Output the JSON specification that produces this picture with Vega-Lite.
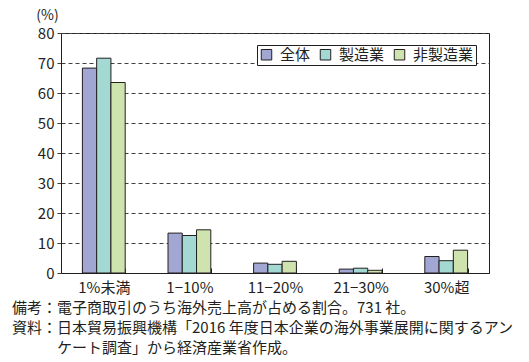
{
  "$schema": "https://vega.github.io/schema/vega-lite/v6.json",
  "autosize": "none",
  "width": 428,
  "height": 240,
  "padding": {"left": 61, "top": 33, "right": 40, "bottom": 89},
  "background": "#ffffff",
  "config": {
    "font": "Noto Sans CJK JP",
    "view": {"stroke": "#231f20", "strokeWidth": 1},
    "axis": {"labelFont": "Noto Sans CJK JP", "labelColor": "#231f20", "titleFont": "Noto Sans CJK JP"}
  },
  "title": {
    "text": ["備考：電子商取引のうち海外売上高が占める割合。731 社。", "資料：日本貿易振興機構「2016 年度日本企業の海外事業展開に関するアン", "\u200b\u3000\u3000\u3000ケート調査」から経済産業省作成。"],
    "orient": "bottom",
    "anchor": "start",
    "frame": "group",
    "dx": -49,
    "offset": 6,
    "fontSize": 15,
    "fontWeight": "normal",
    "color": "#231f20",
    "lineHeight": 20,
    "font": "Noto Sans CJK JP"
  },
  "data": {
    "values": [
      {"cat": "1%未満", "series": "全体", "value": 68.3},
      {"cat": "1%未満", "series": "製造業", "value": 71.6},
      {"cat": "1%未満", "series": "非製造業", "value": 63.5},
      {"cat": "1−10%", "series": "全体", "value": 13.3},
      {"cat": "1−10%", "series": "製造業", "value": 12.5},
      {"cat": "1−10%", "series": "非製造業", "value": 14.4},
      {"cat": "11−20%", "series": "全体", "value": 3.3},
      {"cat": "11−20%", "series": "製造業", "value": 2.9},
      {"cat": "11−20%", "series": "非製造業", "value": 3.9},
      {"cat": "21−30%", "series": "全体", "value": 1.3},
      {"cat": "21−30%", "series": "製造業", "value": 1.6},
      {"cat": "21−30%", "series": "非製造業", "value": 0.9},
      {"cat": "30%超", "series": "全体", "value": 5.5},
      {"cat": "30%超", "series": "製造業", "value": 4.1},
      {"cat": "30%超", "series": "非製造業", "value": 7.6}
    ]
  },
  "mark": {"type": "bar", "stroke": "#231f20", "strokeWidth": 1},
  "encoding": {
    "x": {
      "field": "cat",
      "type": "nominal",
      "sort": null,
      "scale": {"paddingInner": 0.5, "paddingOuter": 0.25},
      "axis": {
        "title": null,
        "labelAngle": 0,
        "labelFontSize": 15,
        "labelPadding": 12,
        "tickBand": "extent",
        "tickSize": -5,
        "tickColor": "#231f20",
        "domainColor": "#231f20",
        "grid": false
      }
    },
    "xOffset": {"field": "series", "type": "nominal", "sort": ["全体", "製造業", "非製造業"]},
    "y": {
      "field": "value",
      "type": "quantitative",
      "scale": {"domain": [0, 80]},
      "axis": {
        "values": [0, 10, 20, 30, 40, 50, 60, 70, 80],
        "labelFontSize": 15,
        "labelPadding": 1,
        "tickSize": 6,
        "tickColor": "#404040",
        "tickDash": [4, 3],
        "domainColor": "#231f20",
        "gridColor": "#404040",
        "gridDash": [4, 3],
        "gridOpacity": 1,
        "title": "(%)",
        "titleAngle": 0,
        "titleAlign": "center",
        "titleBaseline": "middle",
        "titleX": -14,
        "titleY": -18,
        "titleFontSize": 14,
        "titleFontWeight": "normal",
        "titleColor": "#231f20"
      }
    },
    "color": {
      "field": "series",
      "type": "nominal",
      "sort": ["全体", "製造業", "非製造業"],
      "scale": {"domain": ["全体", "製造業", "非製造業"], "range": ["#a2a6d2", "#a3d9d2", "#cfe3ae"]},
      "legend": {
        "title": null,
        "orient": "none",
        "legendX": 196,
        "legendY": 12,
        "direction": "horizontal",
        "symbolType": "square",
        "symbolSize": 110,
        "symbolStrokeColor": "#231f20",
        "symbolStrokeWidth": 1,
        "symbolOpacity": 1,
        "labelFontSize": 15,
        "labelColor": "#231f20",
        "labelOffset": 6,
        "columnPadding": 7,
        "padding": 2,
        "strokeColor": "#231f20",
        "fillColor": "#ffffff"
      }
    }
  }
}
